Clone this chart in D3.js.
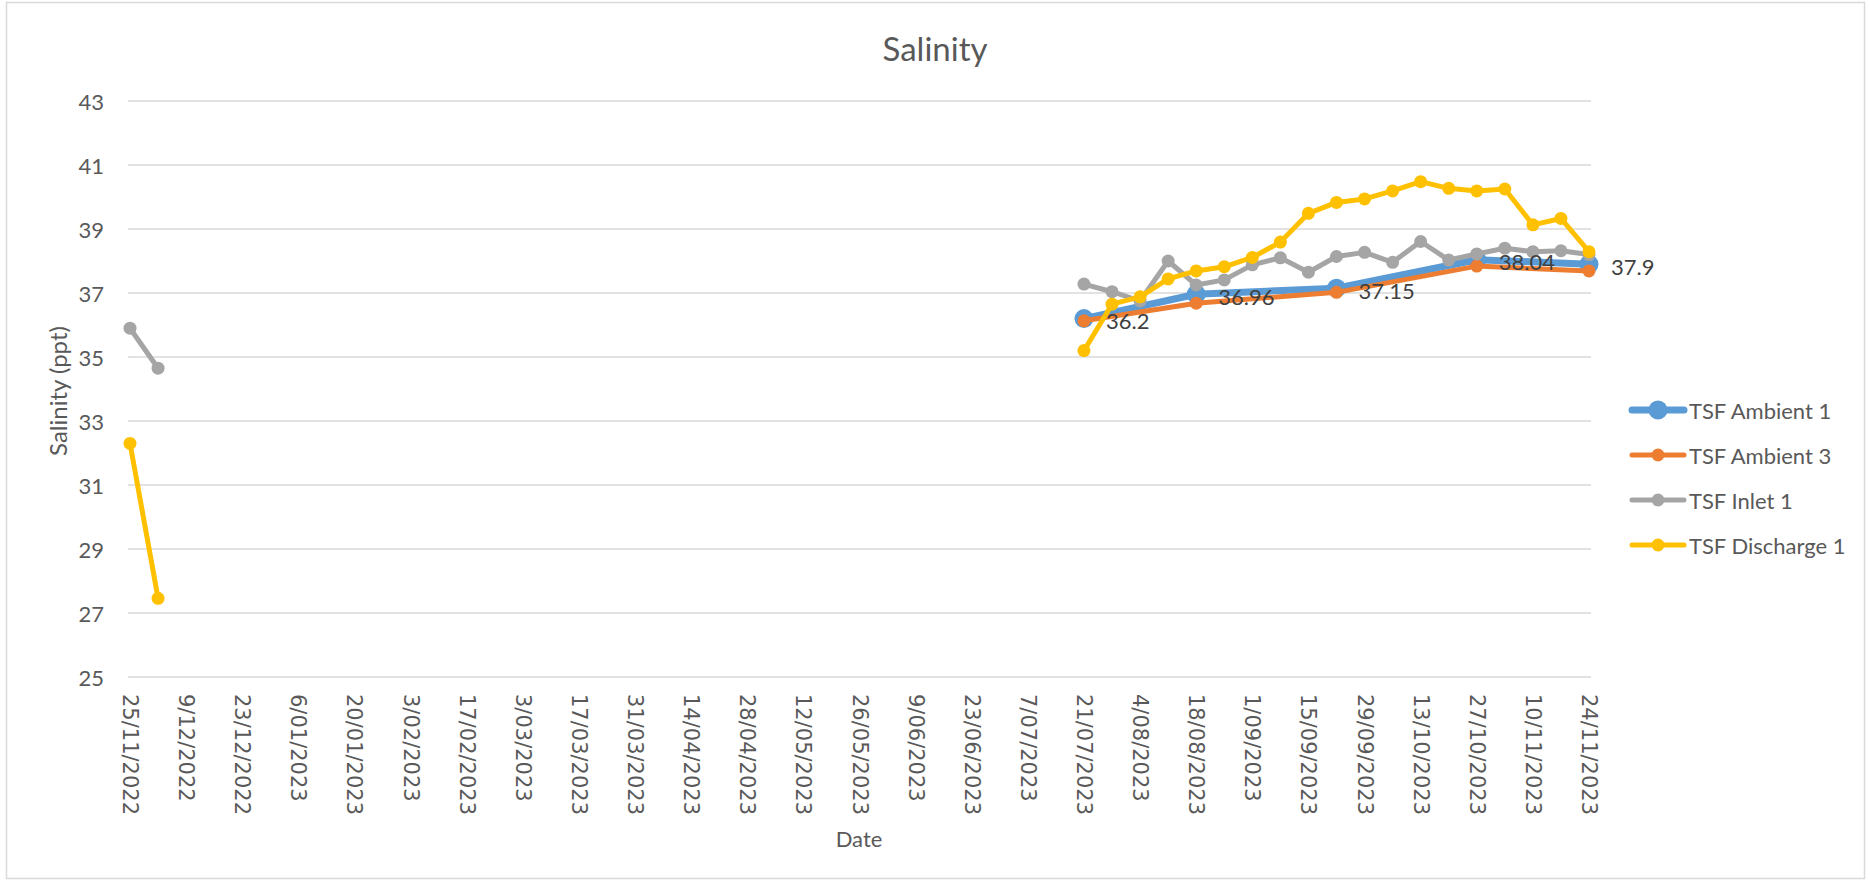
<!DOCTYPE html>
<html>
<head>
<meta charset="utf-8">
<script src="https://cdn.jsdelivr.net/npm/d3@7"></script>
<style>
  body { margin: 0; background: #fff; }
  text { font-family: Lato, "Open Sans", sans-serif; fill: #595959; }
</style>
</head>
<body>
<script>
// sampling dates, inlet / discharge sampled weekly
var sampleDates = ["2022-11-25", "2022-12-02", "2023-07-21", "2023-07-28", "2023-08-04",
  "2023-08-11", "2023-08-18", "2023-08-25", "2023-09-01", "2023-09-08", "2023-09-15",
  "2023-09-22", "2023-09-29", "2023-10-06", "2023-10-13", "2023-10-20", "2023-10-27",
  "2023-11-03", "2023-11-10", "2023-11-17", "2023-11-24"]

var inlet1 = [35.9, 34.65, 37.28, 37.04, 36.75, 38.0, 37.25, 37.41, 37.88, 38.1, 37.65,
  38.14, 38.27, 37.96, 38.61, 38.03, 38.22, 38.4, 38.29, 38.32, 38.2]
var discharge1 = [32.3, 27.46, 35.2, 36.65, 36.88, 37.44, 37.69, 37.82, 38.11, 38.59, 39.49,
  39.83, 39.94, 40.19, 40.48, 40.27, 40.19, 40.25, 39.13, 39.33, 38.29]

// ambient sites sampled less often
var ambientDates = ["2023-07-21", "2023-08-18", "2023-09-22", "2023-10-27", "2023-11-24"]
var ambient1 = [36.2, 36.96, 37.15, 38.04, 37.9]
var ambient3 = [36.13, 36.68, 37.02, 37.84, 37.69]

var yTicks = [25, 27, 29, 31, 33, 35, 37, 39, 41, 43]

var parse = d3.timeParse("%Y-%m-%d")
var fmt = d3.timeFormat("%-d/%m/%Y")

var W = 1870, H = 882
// plot area edges (note: "top" is taken by window.top)
var plotL = 128, plotR = 1591, plotT = 101, plotB = 677

var svg = d3.select("body")
  .append("svg")
  .attr("width", W)
  .attr("height", H)

// chart border
svg.append("rect")
  .attr("x", 6.5).attr("y", 2.5)
  .attr("width", 1858).attr("height", 876)
  .attr("fill", "#fff")
  .attr("stroke", "#d9d9d9")
  .attr("stroke-width", 1.5)

var start = parse("2022-11-25"), end = parse("2023-11-24")
var x = d3.scaleTime()
  .domain([d3.timeHour.offset(start, -12), d3.timeHour.offset(end, 12)])
  .range([plotL, plotR])
var y = d3.scaleLinear().domain([25, 43]).range([plotB, plotT])

// gridlines
svg.append("g").selectAll("line")
  .data(yTicks)
  .enter().append("line")
  .attr("x1", plotL).attr("x2", plotR)
  .attr("y1", d => y(d)).attr("y2", d => y(d))
  .attr("stroke", "#d9d9d9")
  .attr("stroke-width", 1.5)

// y tick labels
svg.append("g").selectAll("text")
  .data(yTicks)
  .enter().append("text")
  .attr("x", 104)
  .attr("y", d => y(d))
  .attr("text-anchor", "end")
  .attr("dominant-baseline", "central")
  .style("font-size", "22px")
  .text(d => d)

// x tick labels every 14 days
var xTicks = d3.timeDay.range(start, d3.timeDay.offset(end, 1), 1).filter((d, i) => i % 14 == 0)
svg.append("g").selectAll("text")
  .data(xTicks)
  .enter().append("text")
  .attr("transform", d => "translate(" + x(d) + ",694) rotate(90)")
  .attr("dominant-baseline", "central")
  .style("font-family", "'DejaVu Sans', sans-serif")
  .style("font-size", "21px")
  .text(d => fmt(d))

// titles
svg.append("text")
  .attr("x", 935).attr("y", 48)
  .attr("text-anchor", "middle")
  .attr("dominant-baseline", "central")
  .style("font-size", "33px")
  .text("Salinity")

svg.append("text")
  .attr("transform", "translate(57,391) rotate(-90)")
  .attr("text-anchor", "middle")
  .attr("dominant-baseline", "central")
  .style("font-size", "24px")
  .text("Salinity (ppt)")

svg.append("text")
  .attr("x", 859).attr("y", 838)
  .attr("text-anchor", "middle")
  .attr("dominant-baseline", "central")
  .style("font-size", "22px")
  .text("Date")

var series = [
  { name: "TSF Ambient 1", color: "#5b9bd5", width: 7, r: 9.5, dates: ambientDates, values: ambient1 },
  { name: "TSF Ambient 3", color: "#ed7d31", width: 5, r: 6.5, dates: ambientDates, values: ambient3 },
  { name: "TSF Inlet 1", color: "#a5a5a5", width: 5, r: 6.5, dates: sampleDates, values: inlet1 },
  { name: "TSF Discharge 1", color: "#ffc000", width: 5, r: 6.5, dates: sampleDates, values: discharge1 }
]

var line = d3.line()
  .defined(d => !d.gap)
  .x(d => x(d.date))
  .y(d => y(d.v))

series.forEach(function (s) {
  var pts = []
  s.dates.forEach(function (ds, i) {
    var p = { date: parse(ds), v: s.values[i] }
    // break the line over the long sampling gap (Dec - Jul)
    if (pts.length && (p.date - pts[pts.length - 1].date) > 60 * 864e5) pts.push({ gap: true })
    pts.push(p)
  })
  var g = svg.append("g")
  g.append("path")
    .datum(pts)
    .attr("d", line)
    .attr("fill", "none")
    .attr("stroke", s.color)
    .attr("stroke-width", s.width)
    .attr("stroke-linejoin", "round")
    .attr("stroke-linecap", "round")
  g.selectAll("circle")
    .data(pts.filter(d => !d.gap))
    .enter().append("circle")
    .attr("cx", d => x(d.date))
    .attr("cy", d => y(d.v))
    .attr("r", s.r)
    .attr("fill", s.color)
})

// data labels for TSF Ambient 1
svg.append("g").selectAll("text")
  .data(ambientDates.map((d, i) => ({ date: parse(d), v: ambient1[i] })))
  .enter().append("text")
  .attr("x", d => x(d.date) + 22)
  .attr("y", d => y(d.v) + 2)
  .attr("dominant-baseline", "central")
  .style("font-size", "22px")
  .style("fill", "#404040")
  .text(d => d.v)

// legend
var leg = svg.append("g").selectAll("g")
  .data(series)
  .enter().append("g")
  .attr("transform", (d, i) => "translate(1630," + (410 + i * 45) + ")")
leg.append("line")
  .attr("x1", 2).attr("x2", 54)
  .attr("stroke", d => d.color)
  .attr("stroke-width", d => d.width)
  .attr("stroke-linecap", "round")
leg.append("circle")
  .attr("cx", 28)
  .attr("r", d => d.r)
  .attr("fill", d => d.color)
leg.append("text")
  .attr("x", 59)
  .attr("dominant-baseline", "central")
  .style("font-size", "22px")
  .text(d => d.name)
</script>
</body>
</html>
